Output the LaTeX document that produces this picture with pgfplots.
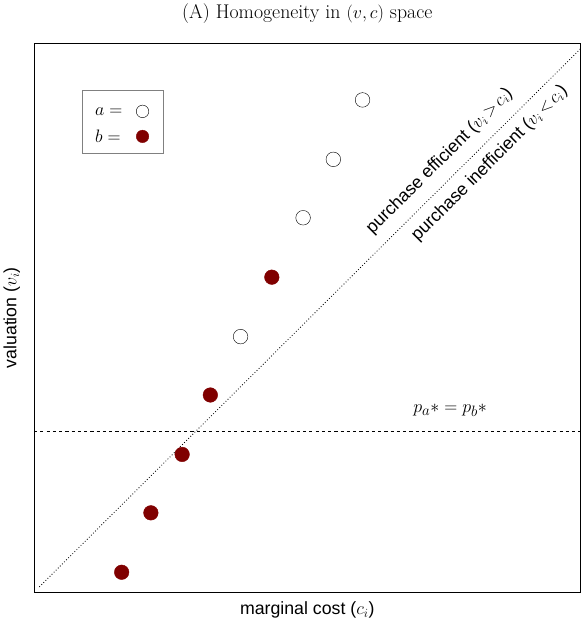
\documentclass[border=0pt]{standalone}
\usepackage{pgfplots}
\pgfplotsset{compat=1.18}
\usepackage{fontspec}
\setsansfont{Liberation Sans}
\definecolor{dred}{RGB}{128,0,0}
\newcommand\fs[1]{\fontsize{#1}{#1}\selectfont}
\begin{document}
\begin{tikzpicture}
\begin{axis}[width=524pt,height=526pt,scale only axis,
 xmin=0,xmax=524,ymin=0,ymax=526,xtick=\empty,ytick=\empty,
 title={(A)\ Homogeneity in $(v,c)$ space},
 title style={font=\fs{19},yshift=10pt},
 xlabel={\sffamily marginal cost ($c_i$)},ylabel={\sffamily valuation ($v_i$)},
 xlabel style={font=\fs{17},yshift=-6pt},ylabel style={font=\fs{17},yshift=10pt},clip=false]
\addplot[dotted,thick] coordinates {(5,5) (524,521)};
\addplot[dashed,thick] coordinates {(0,154) (524,154)};
\addplot[only marks,mark=*,mark size=7pt,color=dred] coordinates {(84,19) (112,76) (142,132) (169,189) (228,302)};
\addplot[only marks,mark=*,mark size=7pt,draw=black,fill=white] coordinates {(198,245) (258,359) (287,415) (315,472)};
\node[font=\fs{19}] at (axis cs:399,174) {$p_a{*} = p_b{*}$};
\node[rotate=45,font=\sffamily\fs{17}] at (axis cs:389,413) {purchase efficient ($v_i\!>\!c_i$)};
\node[rotate=45,font=\sffamily\fs{17}] at (axis cs:437,411) {purchase inefficient ($v_i\!<\!c_i$)};
\draw[gray] (axis cs:46,421) rectangle (axis cs:124,481);
\node[font=\fs{19},anchor=west] at (axis cs:55,461) {$a =$};
\node[font=\fs{19},anchor=west] at (axis cs:55,437) {$b =$};
\addplot[only marks,mark=*,mark size=6pt,draw=black,fill=white] coordinates {(104,461)};
\addplot[only marks,mark=*,mark size=6pt,color=dred] coordinates {(104,437)};
\end{axis}
\end{tikzpicture}
\end{document}
